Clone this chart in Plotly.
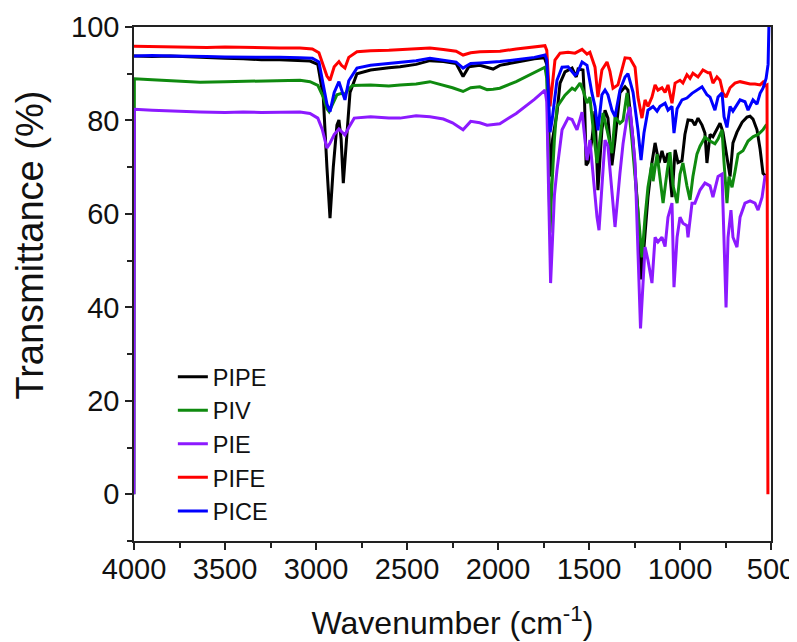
import plotly.graph_objects as go

# ---- data: wavenumber (cm-1) and transmittance (%) ----
pipe_wn = [4000, 3900, 3800, 3700, 3600, 3500, 3400, 3300, 3200, 3100, 3033, 2990, 2960, 2940, 2923, 2905, 2885, 2874, 2862, 2850, 2835, 2813, 2775, 2700, 2600, 2538, 2450, 2374, 2300, 2230, 2192, 2160, 2100, 2027, 1990, 1900, 1800, 1745, 1732, 1722, 1714, 1700, 1676, 1659, 1632, 1593, 1570, 1560, 1533, 1525, 1516, 1505, 1484, 1467, 1451, 1429, 1412, 1396, 1374, 1357, 1330, 1302, 1286, 1258, 1231, 1212, 1192, 1176, 1154, 1137, 1126, 1115, 1099, 1082, 1066, 1044, 1027, 1011, 989, 973, 956, 934, 918, 901, 879, 863, 852, 835, 819, 797, 780, 764, 742, 725, 709, 687, 659, 632, 615, 599, 577, 560, 544, 527, 520]
pipe_t = [93.8, 93.7, 93.8, 93.6, 93.4, 93.3, 93.2, 93.0, 93.0, 92.9, 92.7, 92.0, 85, 70, 59.1, 70, 79, 80.1, 76, 66.6, 75, 86, 90.0, 90.8, 91.3, 91.5, 92.0, 92.8, 92.6, 92.2, 89.4, 91.5, 91.8, 91.0, 91.8, 92.5, 93.2, 93.4, 92, 80, 68, 76, 81.6, 88, 90.4, 91.2, 89.3, 91, 90.8, 85, 70.4, 71, 75.8, 82, 65.1, 78, 82.2, 80.5, 70.4, 75.8, 85.9, 87.2, 86.5, 75.8, 60.2, 46, 56.5, 63.6, 71, 75.2, 73, 70.9, 73.5, 71, 73, 63.6, 73.7, 71, 71.4, 77, 80.1, 80.0, 79, 80.5, 79, 77.3, 70.9, 77, 76.5, 78, 79.4, 77.5, 71.5, 68, 75.2, 77.5, 79.6, 80.7, 80.9, 80.3, 78, 73.9, 68.7, 68, 68]

piv_wn = [4000, 3998, 3900, 3800, 3700, 3637, 3500, 3400, 3300, 3200, 3088, 3033, 2990, 2960, 2940, 2928, 2910, 2885, 2860, 2845, 2825, 2800, 2700, 2600, 2538, 2450, 2374, 2300, 2250, 2192, 2150, 2100, 2060, 2027, 1990, 1900, 1800, 1742, 1732, 1722, 1714, 1705, 1690, 1676, 1632, 1593, 1577, 1549, 1533, 1511, 1495, 1478, 1456, 1440, 1423, 1401, 1374, 1357, 1330, 1313, 1291, 1264, 1236, 1220, 1209, 1192, 1176, 1154, 1148, 1126, 1110, 1093, 1071, 1055, 1038, 1016, 1000, 984, 962, 945, 929, 907, 890, 863, 835, 808, 791, 769, 758, 742, 731, 714, 698, 681, 654, 626, 599, 571, 544, 527, 520]
piv_t = [0, 88.9, 88.7, 88.5, 88.3, 88.2, 88.3, 88.4, 88.5, 88.6, 88.6, 88.3, 87.5, 85, 82.5, 81.9, 83.5, 85.5, 85.8, 85.4, 86.5, 87.5, 87.6, 87.4, 87.6, 87.8, 88.3, 87.5, 87.0, 86.2, 87.0, 87.2, 86.6, 86.7, 86.9, 88.3, 90.3, 91.4, 89, 70, 56, 65, 76, 82.9, 85.4, 86.9, 86.5, 88, 86.5, 83.7, 85, 78.6, 70.9, 76, 81.6, 78, 73, 80.7, 79.4, 80, 85.9, 75.8, 63.6, 55, 50.7, 59.3, 65.7, 70.9, 67, 72.8, 68, 62.3, 69, 73.2, 66, 62.3, 68.5, 70.9, 66, 63, 68, 72.8, 74.5, 76.4, 75.6, 75, 76, 78, 71, 62.3, 68, 65.7, 69, 72.8, 73.5, 75.6, 76.5, 77, 78, 79, 79]

pie_wn = [4000, 3998, 3900, 3800, 3700, 3637, 3500, 3400, 3300, 3200, 3088, 3033, 2990, 2965, 2940, 2925, 2900, 2874, 2855, 2841, 2820, 2790, 2700, 2600, 2538, 2450, 2374, 2300, 2250, 2192, 2150, 2100, 2060, 2027, 1990, 1900, 1800, 1742, 1732, 1722, 1711, 1700, 1690, 1676, 1648, 1615, 1593, 1566, 1538, 1522, 1511, 1495, 1478, 1456, 1445, 1429, 1412, 1396, 1374, 1357, 1330, 1313, 1290, 1275, 1247, 1231, 1217, 1192, 1176, 1154, 1137, 1121, 1099, 1082, 1066, 1044, 1033, 1016, 1000, 984, 962, 956, 934, 918, 890, 863, 835, 819, 791, 769, 758, 747, 736, 720, 709, 687, 670, 643, 615, 588, 571, 549, 533, 522]
pie_t = [0, 82.4, 82.2, 82.0, 81.8, 81.8, 81.7, 81.8, 81.7, 81.8, 81.8, 81.5, 80.5, 78, 74.1, 75, 77, 78.2, 77.5, 76.9, 78.5, 80.5, 80.8, 80.5, 80.5, 81.0, 80.8, 80.3, 79.5, 78.0, 79.8, 79.5, 79.0, 79.2, 79.3, 81.5, 84.5, 86.5, 84, 65, 45.2, 55, 64, 69.4, 78, 80.5, 80.2, 78, 81.8, 75.8, 71.5, 75.8, 68.7, 59.3, 56.5, 65, 75.8, 74.5, 65.1, 57.2, 68.7, 75, 81, 82.9, 71, 50, 35.5, 52.9, 50.1, 45.2, 55, 54, 55, 53, 59.3, 62.3, 44.3, 55, 59.3, 58, 57.5, 55, 62.3, 62.3, 65.1, 66.6, 66, 63.6, 68, 68.5, 55, 40, 55, 60.8, 55, 52.9, 59.3, 62.3, 62.8, 62.3, 60.8, 63.6, 68, 68]

pife_wn = [4000, 3900, 3800, 3700, 3600, 3500, 3400, 3300, 3200, 3088, 3020, 2984, 2960, 2940, 2923, 2900, 2874, 2860, 2841, 2820, 2775, 2700, 2600, 2538, 2450, 2374, 2300, 2230, 2192, 2150, 2099, 2027, 1989, 1900, 1800, 1742, 1732, 1722, 1714, 1703, 1687, 1659, 1615, 1577, 1538, 1511, 1495, 1467, 1451, 1429, 1401, 1385, 1368, 1341, 1313, 1302, 1275, 1247, 1231, 1209, 1192, 1176, 1154, 1137, 1121, 1099, 1082, 1066, 1044, 1027, 1000, 984, 962, 945, 929, 901, 874, 846, 835, 819, 797, 780, 764, 747, 725, 698, 670, 643, 615, 588, 560, 544, 533, 522, 517]
pife_t = [95.9, 95.8, 95.8, 95.7, 95.6, 95.7, 95.6, 95.6, 95.5, 95.5, 95.3, 94.5, 92, 89.5, 88.6, 91.5, 92.6, 91.8, 91.2, 93.5, 94.7, 94.9, 95.0, 95.1, 95.3, 95.5, 95.2, 94.8, 94.0, 94.5, 94.7, 94.7, 94.8, 95.3, 95.8, 96.0, 95, 88, 83, 87, 92.9, 94.4, 94.6, 94.4, 95.2, 94.2, 94.6, 91.4, 85, 90.8, 92.5, 90.5, 86.9, 87.6, 91.4, 93.4, 93.3, 91.4, 85, 80.5, 84.4, 83, 85, 87.6, 86.5, 87, 86, 87.6, 83.7, 88, 88.6, 88, 89.8, 89, 90.1, 89.3, 90.8, 90.2, 90.2, 88, 89.3, 88.6, 85.9, 85, 87, 88, 88.3, 88, 87.8, 87.8, 87.6, 88.2, 87.4, 87.6, 0]

pice_wn = [4000, 3900, 3800, 3700, 3600, 3500, 3400, 3300, 3200, 3088, 3020, 2984, 2960, 2940, 2923, 2900, 2874, 2860, 2841, 2820, 2775, 2700, 2600, 2538, 2450, 2374, 2300, 2230, 2192, 2150, 2099, 2027, 1989, 1900, 1800, 1742, 1732, 1722, 1714, 1703, 1687, 1676, 1648, 1615, 1577, 1566, 1538, 1511, 1484, 1467, 1451, 1429, 1412, 1396, 1374, 1357, 1330, 1302, 1286, 1258, 1231, 1214, 1198, 1176, 1148, 1126, 1110, 1082, 1066, 1044, 1033, 1016, 989, 962, 934, 907, 879, 852, 835, 808, 791, 769, 758, 742, 725, 709, 687, 670, 643, 626, 599, 577, 560, 544, 527, 516, 511]
pice_t = [93.8, 93.9, 93.8, 93.8, 93.7, 93.6, 93.6, 93.5, 93.5, 93.4, 93.3, 92.5, 88, 83.5, 81.9, 86, 88.3, 86.5, 84.4, 88.5, 91.2, 91.8, 92.2, 92.3, 92.8, 93.3, 92.9, 92.5, 91.2, 92.2, 92.3, 92.4, 92.6, 93.0, 93.5, 94.0, 93, 85, 77.5, 80, 86, 88.6, 91.4, 91.5, 89.7, 90, 92.5, 91.8, 85.9, 83, 77.9, 85.5, 86.5, 85.5, 82.2, 80.8, 86.5, 89.3, 90, 86, 78, 71.5, 77.3, 82.2, 83, 82, 83, 83.7, 82.2, 83, 77.3, 82.5, 84.4, 84.8, 85.8, 86.5, 87.2, 85.5, 85, 82.2, 85, 85.9, 80.8, 78.5, 83, 82, 83.5, 84.4, 84, 82.2, 84.4, 83.5, 85.8, 86.9, 89, 92, 101]

series = [
    ("PIPE", pipe_wn, pipe_t, "#000000"),
    ("PIV", piv_wn, piv_t, "#0f8a0f"),
    ("PIE", pie_wn, pie_t, "#8c1aff"),
    ("PIFE", pife_wn, pife_t, "#ff0000"),
    ("PICE", pice_wn, pice_t, "#0000ff"),
]

x_ticks = [4000, 3500, 3000, 2500, 2000, 1500, 1000, 500]
y_ticks = [0, 20, 40, 60, 80, 100]

fig = go.Figure()
for name, wn, t, col in series:
    fig.add_trace(go.Scatter(x=wn, y=t, mode="lines", name=name,
                             line=dict(color=col, width=3)))

font_family = "Arial, Liberation Sans, sans-serif"
axis_common = dict(showline=True, linecolor="#222222", linewidth=1.5, mirror=True,
                   showgrid=False, zeroline=False, ticks="outside", ticklen=7,
                   tickwidth=1.5, tickcolor="#222222", automargin=False,
                   tickfont=dict(family=font_family, size=29, color="#111111"))

# the page body has an 8px margin, so the figure is sized to fit the window
fig.update_layout(
    width=789, height=634,
    margin=dict(l=126, r=26, t=19, b=101),
    paper_bgcolor="white", plot_bgcolor="white",
    font=dict(family=font_family, color="#111111"),
    showlegend=True,
    legend=dict(x=0.061, y=0.362, xanchor="left", yanchor="top",
                font=dict(family=font_family, size=23.5, color="#111111"),
                bgcolor="rgba(0,0,0,0)", tracegroupgap=0),
    xaxis=dict(range=[4000, 500], tickvals=x_ticks, ticklabelstandoff=-6,
               minor=dict(ticks="outside", ticklen=5, dtick=250, tickcolor="#222222", tickwidth=1.5),
               title=dict(text="Wavenumber (cm<sup>-1</sup>)", font=dict(family=font_family, size=32), standoff=28),
               **axis_common),
    yaxis=dict(range=[-10, 100], tickvals=y_ticks,
               minor=dict(ticks="outside", ticklen=5, dtick=10, tickcolor="#222222", tickwidth=1.5),
               **axis_common),
    annotations=[dict(text="Transmittance (%)", textangle=-90, showarrow=False,
                      xref="paper", yref="paper", x=-0.163, y=0.575,
                      xanchor="center", yanchor="middle",
                      font=dict(family=font_family, size=38, color="#111111"))],
)

fig.write_html("out.html")
